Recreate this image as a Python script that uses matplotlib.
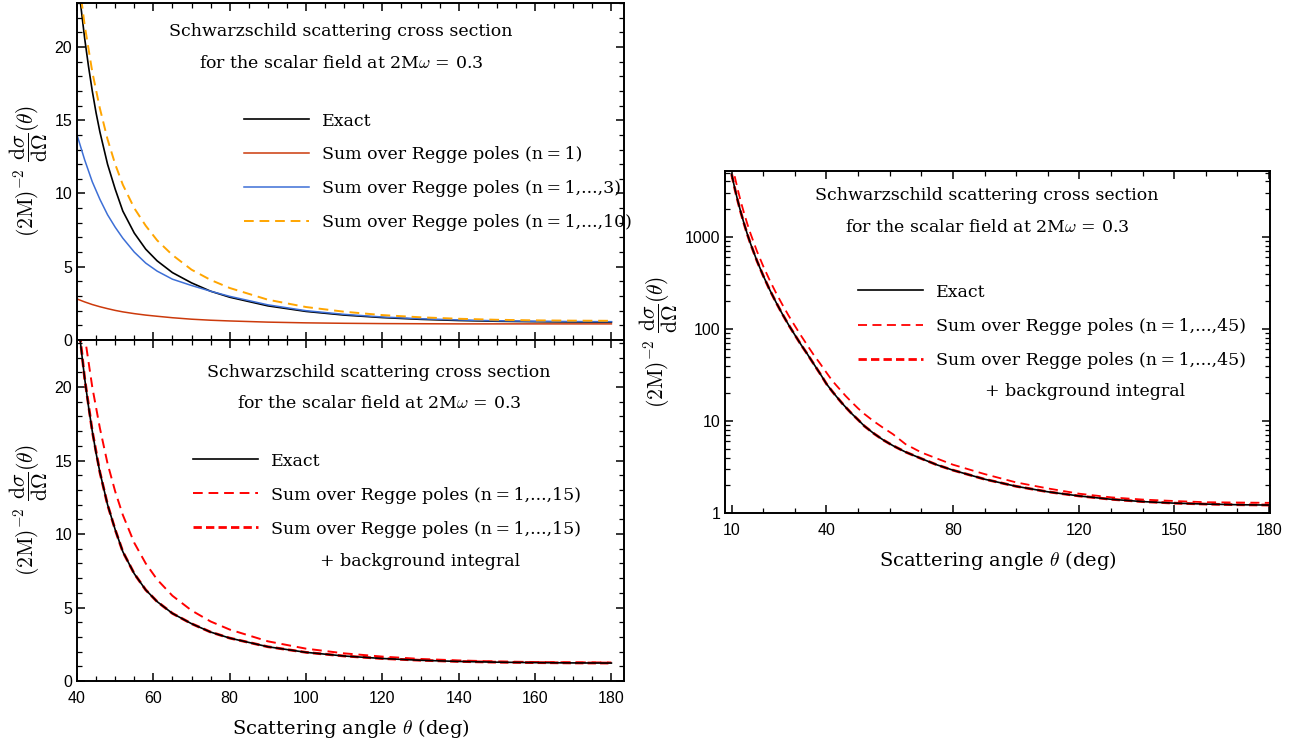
import matplotlib.pyplot as plt
from matplotlib.ticker import MultipleLocator, FixedLocator, NullFormatter
import numpy as np

plt.rcParams['mathtext.fontset'] = 'cm'
plt.rcParams['font.family'] = 'DejaVu Serif'

# scattering angle (deg)
theta = [10, 11, 12, 13, 14, 15, 16, 18, 20, 22, 24, 26, 28, 30, 32, 34, 36, 38,
         40, 41, 42, 43, 44, 45, 46, 48, 50, 52, 55, 58, 61, 65, 70, 75, 80,
         90, 100, 110, 120, 130, 140, 150, 160, 170, 180]
exact = [4800, 3350, 2420, 1800, 1370, 1060, 840, 550, 378, 268, 196, 146, 111, 86, 67, 53, 41.5, 32.6,
         25.3, 22.8, 20.6, 18.7, 17.0, 15.5, 14.2, 12.0, 10.3, 8.8, 7.3, 6.2, 5.4, 4.6, 3.9, 3.33, 2.92,
         2.33, 1.95, 1.7, 1.53, 1.41, 1.33, 1.28, 1.25, 1.23, 1.22]

# top left panel
theta_a = [40, 42, 44, 46, 48, 50, 52, 55, 58, 61, 65, 70, 75, 80, 90, 100, 110, 120, 130, 140, 150, 160, 170, 180]
regge_1 = [2.8, 2.6, 2.42, 2.27, 2.14, 2.02, 1.92, 1.8, 1.7, 1.62, 1.52, 1.42, 1.35, 1.3, 1.22, 1.17, 1.14, 1.12, 1.11, 1.1, 1.1, 1.1, 1.1, 1.1]
regge_3 = [14.0, 12.3, 10.8, 9.6, 8.55, 7.7, 6.95, 6.0, 5.25, 4.7, 4.15, 3.72, 3.33, 2.98, 2.4, 2.0, 1.75, 1.57, 1.45, 1.37, 1.31, 1.28, 1.26, 1.25]
regge_10 = [25.5, 21.5, 18.3, 15.8, 13.7, 12.0, 10.6, 9.0, 7.8, 6.8, 5.8, 4.8, 4.1, 3.55, 2.75, 2.25, 1.93, 1.7, 1.55, 1.45, 1.38, 1.34, 1.32, 1.31]

# bottom left panel
regge_15 = [28.0, 23.5, 20.0, 17.2, 14.8, 12.9, 11.3, 9.4, 8.0, 6.9, 5.8, 4.8, 4.05, 3.5, 2.7, 2.2, 1.88, 1.66, 1.5, 1.4, 1.33, 1.29, 1.27, 1.26]
regge_15_bg = [25.3, 20.6, 17.0, 14.2, 12.0, 10.3, 8.8, 7.3, 6.2, 5.4, 4.6, 3.9, 3.33, 2.92, 2.33, 1.95, 1.7, 1.53, 1.41, 1.33, 1.28, 1.25, 1.23, 1.22]

# right panel (log scale)
regge_45 = [6500, 4500, 3200, 2350, 1780, 1370, 1080, 700, 480, 340, 248, 185, 140, 108, 84, 66, 52, 42,
            33.5, 30.0, 27.0, 24.6, 22.5, 20.6, 18.8, 16.0, 13.7, 11.9, 9.9, 8.4, 7.2, 5.6, 4.55, 3.9, 3.35,
            2.65, 2.15, 1.85, 1.62, 1.48, 1.4, 1.35, 1.31, 1.3, 1.29]
regge_45_bg = exact

title = 'Schwarzschild scattering cross section\nfor the scalar field at 2M$\\omega$ = 0.3'
ylab = r'$(2\mathrm{M})^{-2}\ \dfrac{\mathrm{d}\sigma}{\mathrm{d}\Omega}(\theta)$'
xlab = r'Scattering angle $\theta$ (deg)'
T = '\u2009'

fig = plt.figure(figsize=(13.05, 7.46), dpi=100)
ax1 = fig.add_axes([77/1305, 1-340/746, 547/1305, 337/746])
ax2 = fig.add_axes([77/1305, 1-681/746, 547/1305, 341/746])
ax3 = fig.add_axes([725/1305, 1-513/746, 545/1305, 342/746])

leg_kw = dict(loc='upper left', frameon=False, fontsize=12.5, handlelength=3.75,
              handletextpad=0.75, borderpad=0, borderaxespad=0)


def style(ax):
    for s in ax.spines.values():
        s.set_linewidth(1.4)
    ax.tick_params(which='both', direction='in', top=True, right=True, labelsize=11.5)
    ax.tick_params(which='major', length=6, width=1.1)
    ax.tick_params(which='minor', length=3.5, width=0.9)
    ax.tick_params(axis='x', which='major', pad=7)
    for lab in ax.get_xticklabels() + ax.get_yticklabels():
        lab.set_fontfamily('Liberation Sans')


# top left
ax1.plot(theta, exact, color='black', lw=1.2, label='Exact')
ax1.plot(theta_a, regge_1, color='#cc3a0c', lw=1.1, label=f'Sum over Regge poles (n{T}={T}1)')
ax1.plot(theta_a, regge_3, color='#3d6fd6', lw=1.1, label=f'Sum over Regge poles (n{T}={T}1,...,3)')
ax1.plot(theta_a, regge_10, color='#ffa500', lw=1.4, ls=(0, (5, 3)),
         label=f'Sum over Regge poles (n{T}={T}1,...,10)')
ax1.set_xlim(40, 183.3)
ax1.set_ylim(0, 23)
ax1.xaxis.set_major_locator(MultipleLocator(20))
ax1.xaxis.set_minor_locator(MultipleLocator(5))
ax1.xaxis.set_major_formatter(NullFormatter())
ax1.yaxis.set_major_locator(MultipleLocator(5))
ax1.yaxis.set_minor_locator(MultipleLocator(1))
ax1.set_ylabel(ylab, fontsize=15.5, labelpad=3)
ax1.text(0.483, 0.94, title, transform=ax1.transAxes, ha='center', va='top',
         fontsize=12.5, linespacing=2.15)
ax1.legend(bbox_to_anchor=(0.305, 0.675), labelspacing=0.97, **leg_kw)
style(ax1)

# bottom left
ax2.plot(theta, exact, color='black', lw=1.2, label='Exact', zorder=3)
ax2.plot(theta_a, regge_15, color='red', lw=1.4, ls=(0, (5, 3)),
         label=f'Sum over Regge poles (n{T}={T}1,...,15)')
ax2.plot(theta_a, regge_15_bg, color='red', lw=2.0, ls=(0, (3, 1.5)),
         label=f'Sum over Regge poles (n{T}={T}1,...,15)')
ax2.set_xlim(40, 183.3)
ax2.set_ylim(0, 23.2)
ax2.xaxis.set_major_locator(MultipleLocator(20))
ax2.xaxis.set_minor_locator(MultipleLocator(5))
ax2.yaxis.set_major_locator(MultipleLocator(5))
ax2.yaxis.set_minor_locator(MultipleLocator(1))
ax2.set_ylabel(ylab, fontsize=15.5, labelpad=3)
ax2.set_xlabel(xlab, fontsize=14, labelpad=8)
ax2.text(0.552, 0.931, title, transform=ax2.transAxes, ha='center', va='top',
         fontsize=12.5, linespacing=2.15)
ax2.legend(bbox_to_anchor=(0.212, 0.67), labelspacing=0.98, **leg_kw)
ax2.text(0.444, 0.349, '+ background integral', transform=ax2.transAxes, ha='left', va='center', fontsize=12.5)
style(ax2)

# right (log)
ax3.plot(theta, exact, color='black', lw=1.2, label='Exact', zorder=3)
ax3.plot(theta, regge_45, color='red', lw=1.3, ls=(0, (5, 3)),
         label=f'Sum over Regge poles (n{T}={T}1,...,45)')
ax3.plot(theta, regge_45_bg, color='red', lw=2.0, ls=(0, (3, 1.5)),
         label=f'Sum over Regge poles (n{T}={T}1,...,45)')
ax3.set_yscale('log')
ax3.set_xlim(7.9, 180.3)
ax3.set_ylim(1, 5200)
ax3.xaxis.set_major_locator(FixedLocator([10, 40, 80, 120, 150, 180]))
ax3.xaxis.set_minor_locator(MultipleLocator(10))
ax3.set_yticks([1, 10, 100, 1000])
ax3.set_yticklabels(['1', '10', '100', '1000'])
ax3.set_ylabel(ylab, fontsize=15.5, labelpad=3)
ax3.set_xlabel(xlab, fontsize=14, labelpad=8)
ax3.text(0.481, 0.952, title, transform=ax3.transAxes, ha='center', va='top',
         fontsize=12.5, linespacing=2.15)
ax3.legend(bbox_to_anchor=(0.244, 0.671), labelspacing=1.0, **leg_kw)
ax3.text(0.477, 0.354, '+ background integral', transform=ax3.transAxes, ha='left', va='center', fontsize=12.5)
style(ax3)

fig.savefig('out.png', dpi=100)
